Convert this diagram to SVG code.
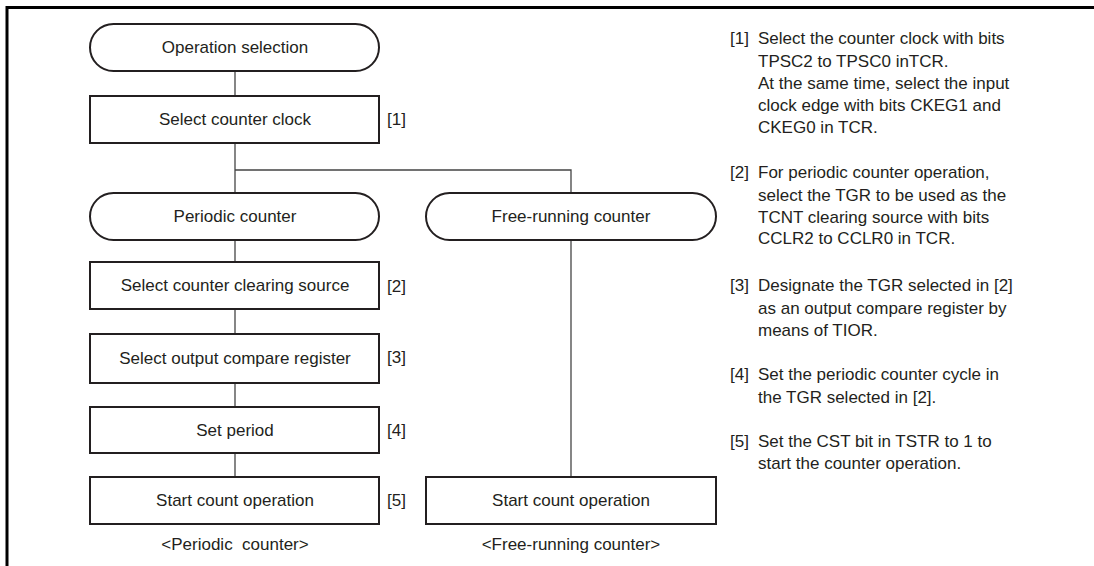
<svg xmlns="http://www.w3.org/2000/svg" width="1094" height="566" viewBox="0 0 1094 566">
<style>
.box{fill:#fff;stroke:#231f20;stroke-width:2}
.frame{fill:none;stroke:#000;stroke-width:3}
.conn{fill:none;stroke:#444;stroke-width:1.3}
.t{font-family:"Liberation Sans",Arial,sans-serif;font-size:17px;fill:#231f20}
.c{text-anchor:middle}
.n{font-family:"Liberation Sans",Arial,sans-serif;font-size:17px;fill:#231f20}
</style>
<rect width="1094" height="566" fill="#fff"/>
<path class="frame" d="M7,566 V7.5 H1094"/>
<g id="connectors">
<line class="conn" x1="235" y1="71" x2="235" y2="96"/>
<line class="conn" x1="235" y1="143" x2="235" y2="193"/>
<polyline class="conn" points="235,170 571,170 571,193"/>
<line class="conn" x1="235" y1="240" x2="235" y2="262"/>
<line class="conn" x1="235" y1="309" x2="235" y2="334"/>
<line class="conn" x1="235" y1="383" x2="235" y2="407"/>
<line class="conn" x1="235" y1="453" x2="235" y2="477"/>
<line class="conn" x1="571" y1="240" x2="571" y2="477"/>
</g>
<g id="n-operation-selection">
<rect class="box" x="90" y="24" width="289" height="47" rx="23.5" ry="23.5"/>
<text class="t c" x="235" y="53">Operation selection</text>
</g>
<g id="n-select-counter-clock">
<rect class="box" x="90" y="96" width="289" height="47"/>
<text class="t c" x="235" y="125">Select counter clock</text>
<text class="n" x="387" y="125">[1]</text>
</g>
<g id="n-periodic-counter">
<rect class="box" x="90" y="193" width="289" height="47" rx="23.5" ry="23.5"/>
<text class="t c" x="235" y="222">Periodic counter</text>
</g>
<g id="n-free-running-counter">
<rect class="box" x="426" y="193" width="290" height="47" rx="23.5" ry="23.5"/>
<text class="t c" x="571" y="222">Free-running counter</text>
</g>
<g id="n-select-clearing-source">
<rect class="box" x="90" y="262" width="289" height="47"/>
<text class="t c" x="235" y="291">Select counter clearing source</text>
<text class="n" x="387" y="292">[2]</text>
</g>
<g id="n-select-output-compare">
<rect class="box" x="90" y="334" width="289" height="49"/>
<text class="t c" x="235" y="364">Select output compare register</text>
<text class="n" x="387" y="363">[3]</text>
</g>
<g id="n-set-period">
<rect class="box" x="90" y="407" width="289" height="46"/>
<text class="t c" x="235" y="436">Set period</text>
<text class="n" x="387" y="436">[4]</text>
</g>
<g id="n-start-periodic">
<rect class="box" x="90" y="477" width="289" height="47"/>
<text class="t c" x="235" y="506">Start count operation</text>
<text class="n" x="387" y="506">[5]</text>
</g>
<g id="n-start-free">
<rect class="box" x="426" y="477" width="290" height="47"/>
<text class="t c" x="571" y="506">Start count operation</text>
</g>
<g id="captions">
<text class="t c" x="235" y="550" xml:space="preserve">&lt;Periodic  counter&gt;</text>
<text class="t c" x="571" y="550">&lt;Free-running counter&gt;</text>
</g>
<g id="notes" class="t">
<text x="730" y="44">[1]</text>
<text x="758" y="44">Select the counter clock with bits</text>
<text x="758" y="67">TPSC2 to TPSC0 inTCR.</text>
<text x="758" y="89">At the same time, select the input</text>
<text x="758" y="111">clock edge with bits CKEG1 and</text>
<text x="758" y="133">CKEG0 in TCR.</text>
<text x="730" y="178">[2]</text>
<text x="758" y="178">For periodic counter operation,</text>
<text x="758" y="201">select the TGR to be used as the</text>
<text x="758" y="223">TCNT clearing source with bits</text>
<text x="758" y="244">CCLR2 to CCLR0 in TCR.</text>
<text x="730" y="291">[3]</text>
<text x="758" y="291">Designate the TGR selected in [2]</text>
<text x="758" y="314">as an output compare register by</text>
<text x="758" y="336">means of TIOR.</text>
<text x="730" y="380">[4]</text>
<text x="758" y="380">Set the periodic counter cycle in</text>
<text x="758" y="403">the TGR selected in [2].</text>
<text x="730" y="447">[5]</text>
<text x="758" y="447">Set the CST bit in TSTR to 1 to</text>
<text x="758" y="469">start the counter operation.</text>
</g>
</svg>
